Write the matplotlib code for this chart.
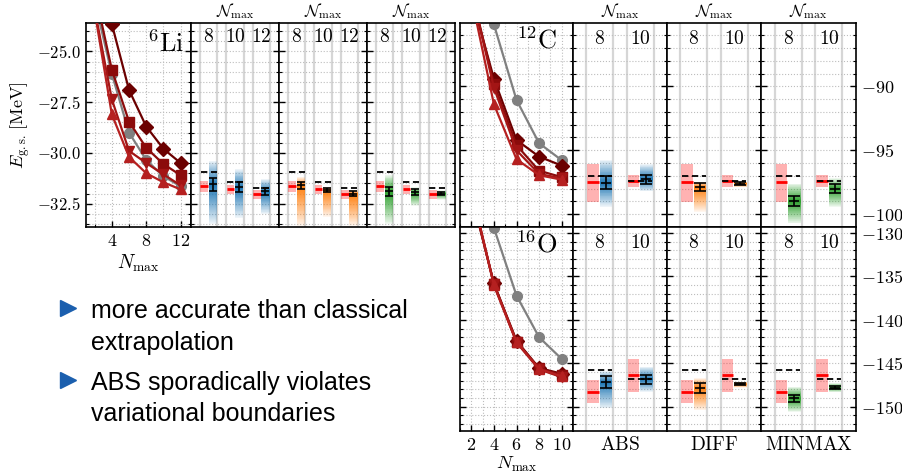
import numpy as np
import matplotlib.pyplot as plt
from matplotlib.ticker import MultipleLocator, FuncFormatter
from matplotlib.colors import to_rgba
from matplotlib.lines import Line2D

plt.rcParams['mathtext.fontset'] = 'cm'
plt.rcParams['font.family'] = 'DejaVu Serif'

# NCSM ground state energies (gray = circles, reds = D, s, v, ^)
nmax_li = [2, 4, 6, 8, 10, 12]
li_gray = [-22.5, -26.1, -29.0, -30.35, -31.15, -31.65]
li_d = [-19.5, -23.65, -26.9, -28.7, -29.8, -30.5]
li_s = [-22.0, -25.9, -28.46, -29.75, -30.55, -31.1]
li_v = [-22.9, -27.36, -29.9, -30.5, -31.06, -31.6]
li_t = [-23.0, -28.1, -30.2, -31.0, -31.45, -31.8]

nmax_co = [2, 4, 6, 8, 10]
c_gray = [-75.0, -85.16, -91.07, -94.45, -95.78]
c_d = [-83.0, -89.4, -94.2, -95.5, -96.2]
c_s = [-82.5, -89.8, -94.6, -96.6, -97.1]
c_v = [-82.5, -90.1, -95.0, -96.85, -97.2]
c_t = [-83.0, -91.4, -95.7, -96.95, -97.3]

o_gray = [-118.0, -129.4, -137.2, -142.0, -144.5]
o_d = [-125.5, -135.8, -142.4, -145.55, -146.2]
o_s = [-125.3, -135.85, -142.5, -145.6, -146.3]
o_v = [-125.0, -135.9, -142.6, -145.7, -146.6]
o_t = [-125.0, -136.0, -142.55, -145.65, -146.5]

# classical extrapolation (red line + box) and variational bound (dashed)
unc_li_nmax = [8, 10, 12]
li_cl = [-31.65, -31.8, -32.0]
li_cl_hi = [-31.36, -31.6, -31.85]
li_cl_lo = [-31.93, -32.0, -32.25]
li_var = [-30.95, -31.44, -31.73]

unc_co_nmax = [8, 10]
c_cl = [-97.5, -97.4]
c_cl_hi = [-96.06, -96.97]
c_cl_lo = [-99.05, -97.84]
c_var = [-96.98, -97.4]

o_cl = [-148.25, -146.3]
o_cl_hi = [-146.9, -144.5]
o_cl_lo = [-149.6, -148.25]
o_var = [-145.8, -146.8]

# network predictions: center, error, upper / lower extent of distribution
li_abs = dict(cen=[-31.55, -31.7, -31.9], err=[0.32, 0.25, 0.17], hi=[-30.4, -30.8, -31.3], lo=[-33.5, -33.2, -33.0])
li_diff = dict(cen=[-31.6, -31.84, -32.0], err=[0.16, 0.1, 0.12], hi=[-31.2, -31.7, -31.85], lo=[-33.6, -33.15, -33.6])
li_minmax = dict(cen=[-31.9, -31.93, -32.0], err=[0.22, 0.15, 0.08], hi=[-31.1, -31.7, -31.85], lo=[-33.5, -32.6, -32.3])

c_abs = dict(cen=[-97.55, -97.25], err=[0.5, 0.35], hi=[-95.75, -96.1], lo=[-99.4, -98.2])
c_diff = dict(cen=[-97.85, -97.6], err=[0.3, 0.1], hi=[-97.45, -97.45], lo=[-99.8, -97.9])
c_minmax = dict(cen=[-98.97, -98.0], err=[0.4, 0.37], hi=[-97.6, -97.2], lo=[-100.7, -99.4])

o_abs = dict(cen=[-147.2, -146.85], err=[0.7, 0.5], hi=[-145.9, -145.4], lo=[-150.2, -148.25])
o_diff = dict(cen=[-147.85, -147.4], err=[0.55, 0.1], hi=[-146.7, -147.1], lo=[-150.4, -147.8])
o_minmax = dict(cen=[-149.05, -147.8], err=[0.45, 0.2], hi=[-147.7, -147.3], lo=[-150.6, -148.3])

methods = ['ABS', 'DIFF', 'MINMAX']
method_colors = ['#1f77b4', '#ff7f0e', '#2ca02c']
red_markers = ['D', 's', 'v', '^']
red_colors = ['#6b0000', '#8b0b0b', '#a31515', '#b52020']

W, H = 902, 474
fig = plt.figure(figsize=(W / 100, H / 100), dpi=100)


def box(x0, y0, x1, y1):
    return [x0 / W, 1 - y1 / H, (x1 - x0) / W, (y1 - y0) / H]


def style(ax, ylim, ymaj, ymin, fmt):
    ax.set_ylim(ylim)
    ax.yaxis.set_major_locator(MultipleLocator(ymaj))
    ax.yaxis.set_minor_locator(MultipleLocator(ymin))
    ax.yaxis.set_major_formatter(FuncFormatter(lambda v, p: '$' + fmt.format(v) + '$'))
    ax.tick_params(which='both', direction='in', left=True, right=True, labelleft=False, labelright=False)
    ax.tick_params(which='major', length=4.5, width=1)
    ax.tick_params(which='minor', length=2.5, width=0.8)
    for s in ax.spines.values():
        s.set_linewidth(1.2)


def ncsm(ax, n, gray, reds, xlim, xmaj, xmin):
    ax.plot(n, gray, 'o-', color='#808080', ms=7, lw=1.6, zorder=2)
    for y, m, c in zip(reds, red_markers, red_colors):
        ax.plot(n, y, marker=m, color=c, ms=7, lw=1.6, zorder=3)
    ax.set_xlim(xlim)
    ax.xaxis.set_major_locator(MultipleLocator(xmaj))
    ax.xaxis.set_minor_locator(MultipleLocator(xmin))
    ax.xaxis.set_major_formatter(FuncFormatter(lambda v, p: '$%d$' % v))
    ax.tick_params(axis='x', which='both', direction='in', top=False, bottom=True, labelsize=13)
    ax.grid(which='both', ls=':', color='#bdbdbd', lw=0.8)


def unc(ax, cl, cl_hi, cl_lo, var, pred, color, cap):
    x = np.arange(len(cl))
    for xi in x:
        ax.axvline(xi - 1 / 3, color='#d6d6d6', lw=1.6, zorder=0)
        ax.axvline(xi + 1 / 3, color='#d6d6d6', lw=1.6, zorder=0)
    hi_arr = np.array(cl_hi)
    lo_arr = np.array(cl_lo)
    ax.bar(x - 0.31, hi_arr - lo_arr, bottom=lo_arr, width=0.28, align='edge',
           color='red', alpha=0.3, lw=0, zorder=2)
    ax.hlines(cl, x - 0.31, x - 0.03, color='red', lw=2, zorder=3)
    cen, lo, hi = pred['cen'], pred['lo'], pred['hi']
    for i in x:
        edges = np.linspace(lo[i], hi[i], 61)
        mid = (edges[:-1] + edges[1:]) / 2
        d = np.where(mid < cen[i], (cen[i] - mid) / (cen[i] - lo[i]), (mid - cen[i]) / (hi[i] - cen[i]))
        a = 0.95 * (1 - np.clip(d, 0, 1)) ** 0.9 + 0.05
        cols = [to_rgba(color, ai) for ai in a]
        ax.bar(np.full(60, i), np.diff(edges), bottom=edges[:-1], width=0.31, align='edge',
               color=cols, lw=0, zorder=2)
    ax.hlines(var, x - 0.3, x + 0.3, color='k', lw=1.3, linestyles=(0, (3.5, 2)), zorder=4)
    ax.errorbar(x + 0.155, cen, yerr=pred['err'], fmt='_', color='k', ms=2 * cap * 0.8,
                capsize=cap, elinewidth=1.2, capthick=1.2, mew=1.2, zorder=5)
    ax.set_xlim(-0.667, len(cl) - 0.333)
    ax.set_xticks([])
    ax.grid(which='both', axis='y', ls=':', color='#bdbdbd', lw=0.8)


# 6Li row
ax = fig.add_axes(box(86, 23, 191, 227))
style(ax, (-33.65, -23.6), 2.5, 0.5, '{:.1f}')
ncsm(ax, nmax_li, li_gray, [li_d, li_s, li_v, li_t], (1, 13.2), 4, 2)
ax.tick_params(axis='y', labelleft=True, labelsize=12)
ax.set_ylabel(r'$E_{\mathrm{g.s.}}\,[\mathrm{MeV}]$', fontsize=13)
ax.set_xlabel(r'$N_{\mathrm{max}}$', fontsize=14, labelpad=2)
ax.text(0.93, 0.9, r'$^{6}\mathrm{Li}$', transform=ax.transAxes, ha='right', va='center', fontsize=19)

li_x = [191, 279, 367, 455]
for k, pred in enumerate([li_abs, li_diff, li_minmax]):
    ax = fig.add_axes(box(li_x[k], 23, li_x[k + 1], 227))
    style(ax, (-33.65, -23.6), 2.5, 0.5, '{:.1f}')
    unc(ax, li_cl, li_cl_hi, li_cl_lo, li_var, pred, method_colors[k], 3.2)
    for i, n in enumerate(unc_li_nmax):
        ax.text(i, 0.93, '$%d$' % n, transform=ax.get_xaxis_transform(), ha='center', va='center', fontsize=14)
    ax.text(0.5, 1.01, r'$\mathcal{N}_{\mathrm{max}}$', transform=ax.transAxes, ha='center', va='bottom', fontsize=12)

# 12C and 16O rows
co_x = [573, 667, 761, 856]
rows = [
    (23, 227, (-101.0, -85.05), c_gray, [c_d, c_s, c_v, c_t], r'$^{12}\mathrm{C}$',
     c_cl, c_cl_hi, c_cl_lo, c_var, [c_abs, c_diff, c_minmax]),
    (227, 431, (-152.8, -129.3), o_gray, [o_d, o_s, o_v, o_t], r'$^{16}\mathrm{O}$',
     o_cl, o_cl_hi, o_cl_lo, o_var, [o_abs, o_diff, o_minmax]),
]
for r, (y0, y1, ylim, gray, reds, name, cl, cl_hi, cl_lo, var, preds) in enumerate(rows):
    ax = fig.add_axes(box(460, y0, 573, y1))
    style(ax, ylim, 5, 1, '{:.0f}')
    ncsm(ax, nmax_co, gray, reds, (1, 11), 2, 1)
    ax.text(0.86, 0.915, name, transform=ax.transAxes, ha='right', va='center', fontsize=19)
    if r == 0:
        ax.tick_params(axis='x', labelbottom=False)
    else:
        ax.set_xlabel(r'$N_{\mathrm{max}}$', fontsize=13.5, labelpad=0.5)
    for k, pred in enumerate(preds):
        ax = fig.add_axes(box(co_x[k], y0, co_x[k + 1], y1))
        style(ax, ylim, 5, 1, '{:.0f}')
        unc(ax, cl, cl_hi, cl_lo, var, pred, method_colors[k], 4.6)
        for i, n in enumerate(unc_co_nmax):
            ax.text(i, 0.92, '$%d$' % n, transform=ax.get_xaxis_transform(), ha='center', va='center', fontsize=14)
        if r == 0:
            ax.text(0.5, 1.01, r'$\mathcal{N}_{\mathrm{max}}$', transform=ax.transAxes, ha='center', va='bottom', fontsize=12)
        else:
            ax.text(0.5, -0.07, r'$\mathrm{%s}$' % methods[k], transform=ax.transAxes, ha='center', va='center', fontsize=14)
        if k == 2:
            ax.tick_params(axis='y', labelright=True, labelsize=13)

# bullet points
bullets = [
    (['more accurate than classical', 'extrapolation'], [318, 350]),
    (['ABS sporadically violates', 'variational boundaries'], [390, 421]),
]
for lines, bases in bullets:
    fig.add_artist(Line2D([67.5 / W], [1 - (bases[0] - 10) / H], marker='>', ms=11, color='#1b5fae',
                          mec='#1b5fae', transform=fig.transFigure))
    for txt, b in zip(lines, bases):
        fig.text(91 / W, 1 - b / H, txt, fontsize=18, family='Liberation Sans', va='baseline', ha='left')

fig.savefig('out.png', dpi=100)
